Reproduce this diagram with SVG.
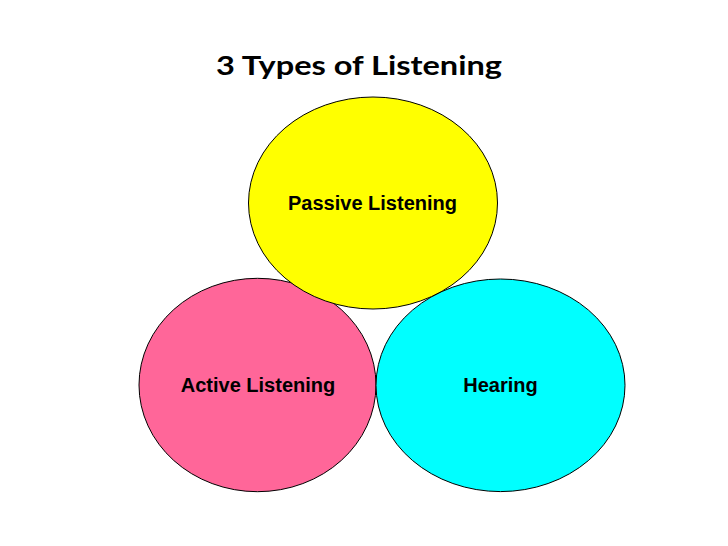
<svg xmlns="http://www.w3.org/2000/svg" width="728" height="546" viewBox="0 0 728 546">
<style>
.c{stroke:#000;stroke-width:1}
.l{font-family:"Liberation Sans",Arial,sans-serif;font-weight:bold;font-size:20px;fill:#000;text-anchor:middle}
.t{font-family:Lato,"Open Sans","Liberation Sans",sans-serif;font-weight:bold;font-size:27px;fill:#000;text-anchor:middle}
</style>
<rect width="728" height="546" fill="#fff"/>
<text class="t" x="359" y="75" textLength="286" lengthAdjust="spacingAndGlyphs">3 Types of Listening</text>
<g id="active">
<ellipse class="c" cx="257.5" cy="385" rx="118.5" ry="106.7" fill="#FF6699"/>
<text class="l" x="258" y="392">Active Listening</text>
</g>
<g id="hearing">
<ellipse class="c" cx="500.5" cy="385.3" rx="124.5" ry="106.3" fill="#00FFFF"/>
<text class="l" x="500.5" y="392">Hearing</text>
</g>
<g id="passive">
<ellipse class="c" cx="373" cy="203" rx="124.5" ry="106" fill="#FFFF00"/>
<text class="l" x="372.5" y="210">Passive Listening</text>
</g>
<g id="connectors"/>
</svg>
